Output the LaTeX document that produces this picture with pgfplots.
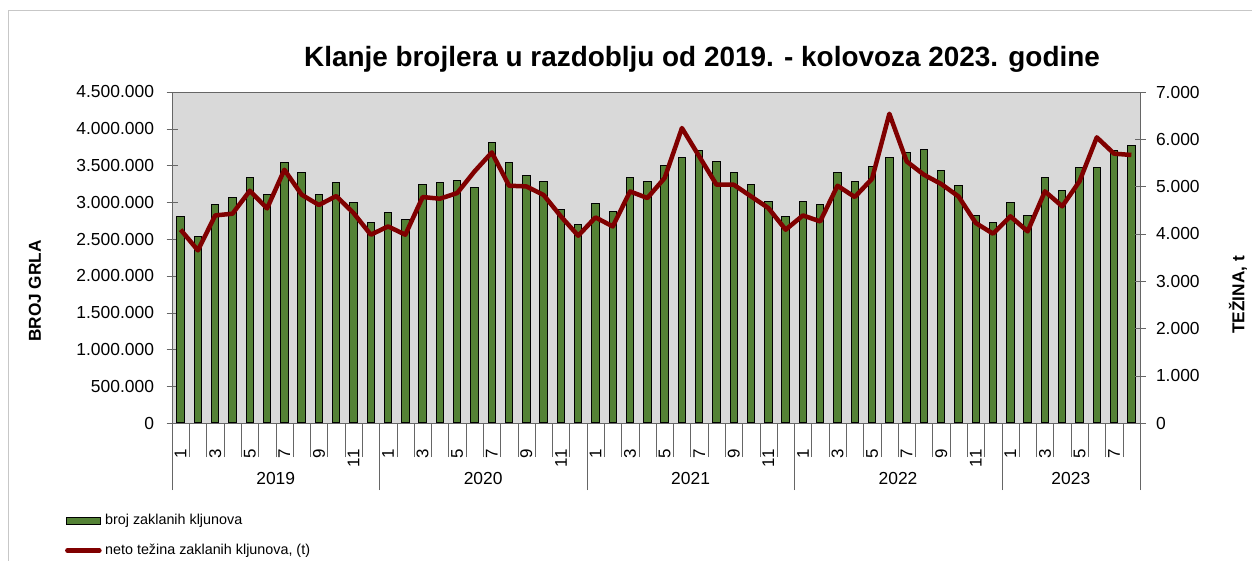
\documentclass[border=0pt]{standalone}
\usepackage{pgfplots}
\pgfplotsset{compat=1.18}
\usepackage{pgfplotstable}
\usepackage{fontspec}
\setmainfont{Liberation Sans}

\definecolor{bargreen}{RGB}{84,130,53}
\definecolor{linered}{RGB}{128,0,0}
\definecolor{plotbg}{RGB}{217,217,217}

% idx: 0 = 2019-01 ... 55 = 2023-08
\pgfplotstableread{
idx grla tezina
0 2809000 4088
1 2537000 3650
2 2972000 4390
3 3067000 4426
4 3331000 4912
5 3113000 4538
6 3539000 5356
7 3412000 4828
8 3108000 4610
9 3271000 4800
10 2995000 4441
11 2719000 3982
12 2859000 4157
13 2764000 3982
14 3240000 4779
15 3271000 4743
16 3298000 4864
17 3195000 5320
18 3815000 5722
19 3548000 5018
20 3362000 5003
21 3285000 4821
22 2896000 4369
23 2696000 3961
24 2981000 4348
25 2882000 4157
26 3331000 4897
27 3285000 4758
28 3498000 5181
29 3607000 6238
30 3698000 5638
31 3552000 5039
32 3399000 5039
33 3249000 4792
34 3018000 4546
35 2809000 4088
36 3018000 4390
37 2972000 4263
38 3412000 5018
39 3285000 4779
40 3489000 5166
41 3607000 6540
42 3675000 5532
43 3720000 5250
44 3426000 5054
45 3226000 4792
46 2822000 4229
47 2732000 4003
48 2999000 4371
49 2822000 4053
50 3331000 4899
51 3162000 4582
52 3471000 5111
53 3471000 6041
54 3702000 5696
55 3779000 5668
}\podaci

\newcommand{\tickfont}{\fontsize{17.5}{20}\selectfont}

\begin{document}
\begin{tikzpicture}
\path[fill=white, use as bounding box] (0,0) rectangle (1252bp,561bp);
\draw[black!22, line width=1bp] (8.5bp,0) |- (1252bp,550.5bp);

\pgfplotsset{
    common/.style={
        scale only axis,
        width=968bp,
        height=331bp,
        at={(172bp,138bp)},
        anchor=south west,
        xmin=-0.5, xmax=55.5,
        ymin=0,
        scaled y ticks=false,
        tick label style={font=\tickfont},
        axis line style={black!60},
        tick style={black!60},
        tick align=center,
        major tick length=11bp,
    }
}

\begin{axis}[
    common,
    ymax=4500000,
    axis background/.style={fill=plotbg},
    ybar,
    bar width=0.43,
    ytick={0,500000,...,4500000},
    yticklabels={0,500.000,1.000.000,1.500.000,2.000.000,2.500.000,3.000.000,3.500.000,4.000.000,4.500.000},
    ytick pos=left,
    xtick pos=bottom,
    yticklabel style={xshift=-9bp},
    xtick={0,2,...,54},
    xticklabels={1,3,5,7,9,11,1,3,5,7,9,11,1,3,5,7,9,11,1,3,5,7,9,11,1,3,5,7},
    x tick style={draw=none},
    xticklabel style={yshift=-12bp, rotate=90, anchor=east, font=\fontsize{17}{20}\selectfont},
    extra x ticks={-0.5,0.5,...,55.5},
    extra x tick labels={},
    extra x tick style={tick align=outside, major tick length=34bp, x tick style={draw=black!60}},
]
\addplot[fill=bargreen, draw=black, line width=1bp] table[x=idx, y=grla] {\podaci};
\end{axis}

\begin{axis}[
    common,
    ymax=7000,
    axis y line*=right,
    axis x line*=bottom,
    ytick={0,1000,...,7000},
    yticklabels={0,{1.000},{2.000},{3.000},{4.000},{5.000},{6.000},{7.000}},
    yticklabel style={xshift=7bp},
    xtick={5.5,17.5,29.5,41.5,51.5},
    xticklabels={2019,2020,2021,2022,2023},
    x tick style={draw=none},
    xticklabel style={yshift=-40bp},
    extra x ticks={-0.5,11.5,23.5,35.5,47.5,55.5},
    extra x tick labels={},
    extra x tick style={tick align=outside, major tick length=67bp, x tick style={draw=black!60}},
    legend style={
        at={(-0.1137,-0.2629)}, anchor=north west,
        draw=none, fill=none,
        font=\fontsize{14.4}{16}\selectfont,
        row sep=13bp,
        nodes={inner ysep=2bp, inner xsep=3.5bp, text height=10bp, text depth=3bp},
    },
    legend cell align=left,
]
\addlegendimage{legend image code/.code={\draw[fill=bargreen, draw=black, line width=1bp] (0bp,-3.5bp) rectangle (34bp,3.5bp);}}
\addlegendentry{broj zaklanih kljunova}
\addplot[draw=linered, line width=4.5bp, line join=round, mark=none,
    legend image code/.code={\draw[draw=linered, line width=4.5bp, line cap=round] (1bp,0bp) -- (33bp,0bp);}]
    table[x=idx, y=tezina] {\podaci};
\addlegendentry{neto težina zaklanih kljunova, (t)}
\end{axis}

\node[font=\bfseries\fontsize{28}{31}\selectfont] at (702bp,502bp) {Klanje brojlera u razdoblju od 2019. - kolovoza 2023. godine};
\node[font=\bfseries\fontsize{17.3}{20}\selectfont, rotate=90] at (35bp,270bp) {BROJ GRLA};
\node[font=\bfseries\fontsize{17.3}{20}\selectfont, rotate=90] at (1238bp,266bp) {TEŽINA, t};
\end{tikzpicture}
\end{document}
